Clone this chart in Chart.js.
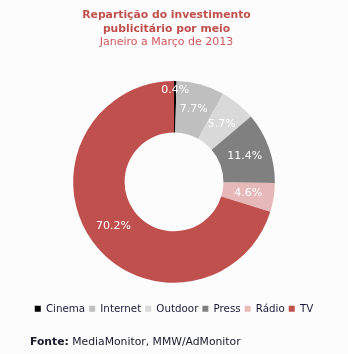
<!DOCTYPE html>
<html>
<head>
<meta charset="utf-8">
<script src="https://cdn.jsdelivr.net/npm/chart.js@4/dist/chart.umd.min.js"></script>
<style>
  html, body { margin: 0; padding: 0; background: #fcfcfc; }
  #wrap { position: relative; width: 348px; height: 354px; }
  #c { position: absolute; left: 0; top: 0; }
  #ttl { position: absolute; left: 0; top: 8px; width: 333px; text-align: center; font-family: "DejaVu Sans", sans-serif; }
  #ttl .t { font-size: 10.8px; font-weight: bold; color: #c0504d; line-height: 13.7px; }
  #ttl .s { font-size: 11px; color: #d0575c; line-height: 13.5px; }
  #src { position: absolute; left: 30px; top: 335px; font: 10.8px "DejaVu Sans", sans-serif; color: #1a1a2e; white-space: nowrap; }
  #src b { font-weight: bold; }
</style>
</head>
<body>
<div id="wrap">
  <canvas id="c" width="348" height="354"></canvas>
  <div id="ttl"></div>
  <div id="src"><b>Fonte:</b> MediaMonitor, MMW/AdMonitor</div>
</div>
<script>
const categories = ['Cinema', 'Internet', 'Outdoor', 'Press', 'Rádio', 'TV'];
const shares = [0.4, 7.7, 5.7, 11.4, 4.6, 70.2];
const sliceColors = ['#000000', '#bfbfbf', '#d9d9d9', '#808080', '#e6b9b8', '#c0504d'];
const titleLines = ['Repartição do investimento', 'publicitário por meio'];
const subtitleText = 'Janeiro a Março de 2013';

const ttl = document.getElementById('ttl');
titleLines.forEach(t => { const d = document.createElement('div'); d.className = 't'; d.textContent = t; ttl.appendChild(d); });
const sd = document.createElement('div'); sd.className = 's'; sd.textContent = subtitleText; ttl.appendChild(sd);

const labelPlugin = {
  id: 'sliceLabels',
  afterDatasetsDraw(chart) {
    const ctx = chart.ctx;
    const meta = chart.getDatasetMeta(0);
    ctx.save();
    ctx.font = '11px "DejaVu Sans", sans-serif';
    ctx.fillStyle = '#ffffff';
    ctx.textAlign = 'center';
    ctx.textBaseline = 'middle';
    meta.data.forEach((arc, i) => {
      const p = arc.getProps(['x', 'y', 'startAngle', 'endAngle', 'innerRadius', 'outerRadius'], true);
      const mid = (p.startAngle + p.endAngle) / 2;
      const v = shares[i];
      let r = (p.innerRadius + p.outerRadius) / 2;
      if (v < 2) r = p.outerRadius - 9;
      const x = p.x + Math.cos(mid) * r;
      const y = p.y + Math.sin(mid) * r;
      ctx.fillText(v.toFixed(1) + '%', x, y);
    });
    ctx.restore();
  }
};

new Chart(document.getElementById('c'), {
  type: 'doughnut',
  data: {
    labels: categories,
    datasets: [{
      data: shares,
      backgroundColor: sliceColors,
      borderWidth: 0,
      hoverOffset: 0
    }]
  },
  options: {
    responsive: false,
    animation: false,
    cutout: '49%',
    layout: { padding: { top: 81, bottom: 30, left: 0, right: 0 } },
    plugins: {
      tooltip: { enabled: false },
      title: { display: false },
      subtitle: { display: false },
      legend: {
        display: true,
        position: 'bottom',
        title: { display: true, text: ' ', font: { size: 1, lineHeight: 1 }, padding: { top: 16, bottom: 0 } },
        labels: {
          boxWidth: 6,
          boxHeight: 6,
          padding: 4,
          color: '#1a1a3a',
          font: { family: '"DejaVu Sans", sans-serif', size: 10.3 }
        }
      }
    }
  },
  plugins: [labelPlugin]
});
</script>
</body>
</html>
